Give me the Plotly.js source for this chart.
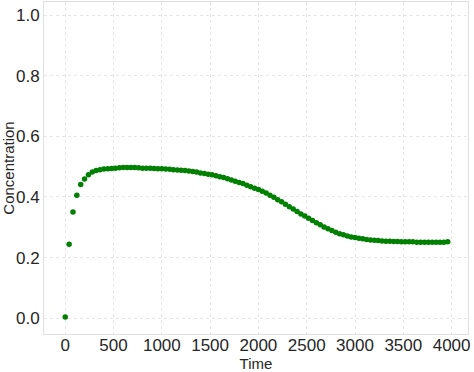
<!DOCTYPE html>
<html>
<head>
<meta charset="utf-8">
<script src="https://cdn.plot.ly/plotly-3.0.1.min.js"></script>
<style>html,body{margin:0;padding:0;background:#fff;}#chart{width:474px;height:372px;}</style>
</head>
<body>
<div id="chart"></div>
<script>
const time = [];
for (let t = 0; t <= 3960; t += 40) time.push(t);
const concentration = [
  0.004, 0.244, 0.350, 0.406, 0.441, 0.459, 0.473, 0.482, 0.487, 0.490,
  0.492, 0.493, 0.494, 0.495, 0.496, 0.497, 0.497, 0.497, 0.497, 0.496,
  0.495, 0.495, 0.495, 0.494, 0.493, 0.493, 0.492, 0.491, 0.490, 0.489,
  0.488, 0.487, 0.486, 0.484, 0.482, 0.479, 0.477, 0.475, 0.473, 0.470,
  0.467, 0.464, 0.460, 0.456, 0.452, 0.448, 0.444, 0.439, 0.434, 0.429,
  0.425, 0.419, 0.413, 0.406, 0.399, 0.391, 0.384, 0.376, 0.368, 0.360,
  0.352, 0.344, 0.337, 0.330, 0.322, 0.315, 0.308, 0.301, 0.295, 0.289,
  0.284, 0.279, 0.275, 0.271, 0.268, 0.266, 0.264, 0.262, 0.260, 0.258,
  0.257, 0.256, 0.255, 0.254, 0.254, 0.253, 0.253, 0.252, 0.252, 0.252,
  0.252, 0.251, 0.251, 0.251, 0.251, 0.251, 0.251, 0.251, 0.251, 0.252
];
const xTicks = [0, 500, 1000, 1500, 2000, 2500, 3000, 3500, 4000];
const yTicks = [0.0, 0.2, 0.4, 0.6, 0.8, 1.0];

const trace = {
  x: time, y: concentration, type: 'scatter', mode: 'markers',
  marker: {color: '#008000', size: 5.5},
  hoverinfo: 'skip'
};
const axisCommon = {
  showgrid: true, gridcolor: '#e6e6e6', griddash: 'dot', gridwidth: 1,
  zeroline: false, showline: true, linecolor: '#e0e0e0', linewidth: 1, mirror: true,
  ticks: '', tickfont: {family: 'Liberation Sans, Arial, sans-serif', size: 17, color: '#262626'}
};
const layout = {
  width: 474, height: 372,
  margin: {l: 44, r: 6, t: 2, b: 38, pad: 0},
  paper_bgcolor: '#ffffff', plot_bgcolor: '#ffffff',
  showlegend: false,
  xaxis: Object.assign({}, axisCommon, {
    range: [-220, 4170], tickmode: 'array', tickvals: xTicks,
    ticktext: xTicks.map(String), ticklabelstandoff: -4,
    title: {text: 'Time', font: {family: 'Liberation Sans, Arial, sans-serif', size: 15, color: '#262626'}, standoff: 0}
  }),
  yaxis: Object.assign({}, axisCommon, {
    range: [-0.052, 1.043], tickmode: 'array', tickvals: yTicks,
    ticktext: yTicks.map(v => v.toFixed(1)),
    title: {text: 'Concentration', font: {family: 'Liberation Sans, Arial, sans-serif', size: 15, color: '#262626'}, standoff: 2}
  })
};
Plotly.newPlot('chart', [trace], layout, {staticPlot: true, displayModeBar: false});
</script>
</body>
</html>
